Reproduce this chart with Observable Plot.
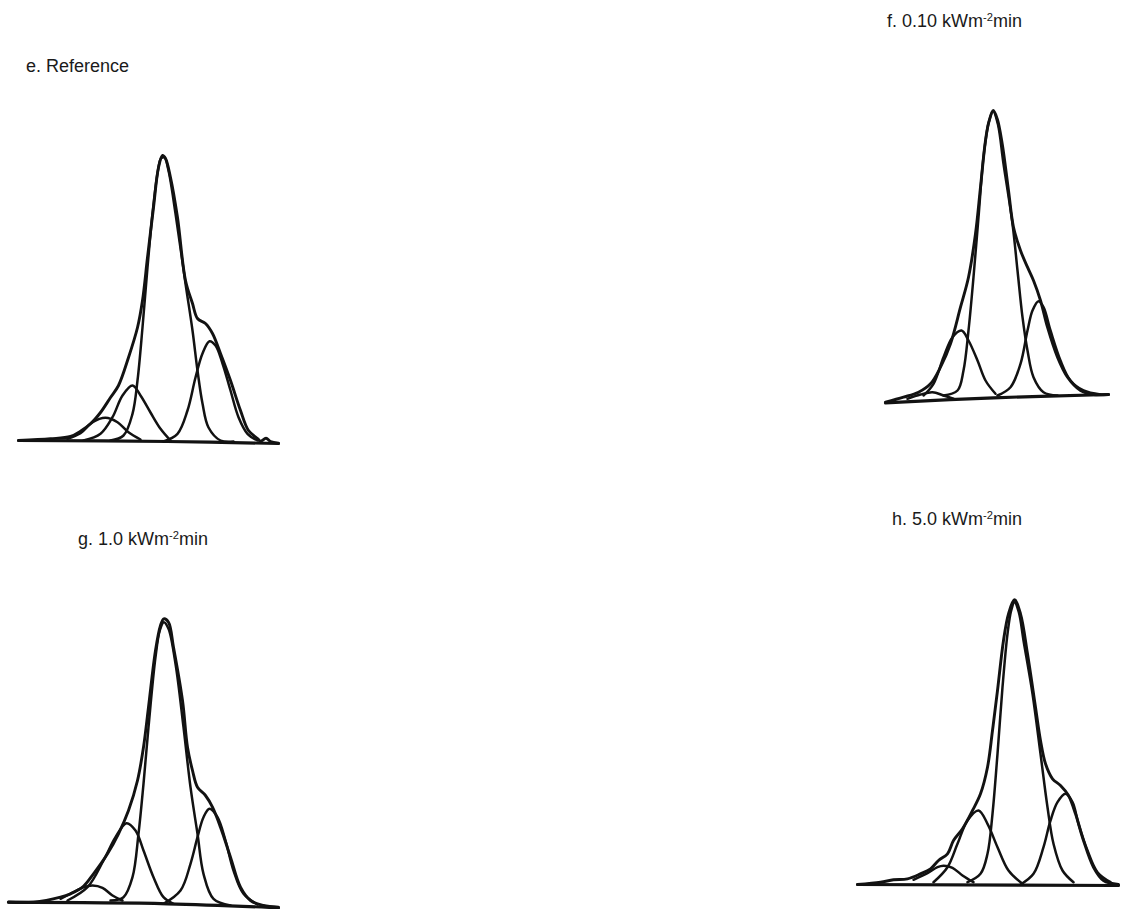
<!DOCTYPE html>
<html>
<head>
<meta charset="utf-8">
<script src="https://cdn.jsdelivr.net/npm/d3@7"></script>
<script src="https://cdn.jsdelivr.net/npm/@observablehq/plot@0.6"></script>
<style>
  html, body { margin: 0; padding: 0; background: #fff; }
  #page { position: relative; width: 1127px; height: 909px; overflow: hidden; background: #fff;
          font-family: "Liberation Sans", Arial, Helvetica, sans-serif; color: #1a1a1a; }
  .lbl { position: absolute; font-size: 18px; white-space: nowrap; line-height: 1; }
  .lbl sup { font-size: 0.62em; vertical-align: 0.55em; line-height: 0; }
  .panel { position: absolute; }
</style>
</head>
<body>
<div id="page"></div>
<script>
// ---------- Panel labels ----------
const labels = [
  {id: "e", html: "e. Reference"},
  {id: "f", html: "f. 0.10 kWm<sup>-2</sup>min"},
  {id: "g", html: "g. 1.0 kWm<sup>-2</sup>min"},
  {id: "h", html: "h. 5.0 kWm<sup>-2</sup>min"}
];

// ---------- Panel e (Reference): [energy channel, intensity] ----------
const eEnvelope = [[18,1],[50,2.7],[70,5],[80,10.3],[90,17.7],[100,29],[110,44],[118,56],[128,84],[137,114],[142,141],[147,184],[153,234],[158,274],[162,286],[165,283],[170,264],[177,224],[185,161],[192,138],[197,123],[205,118],[212,108],[220,88],[230,61],[240,31],[248,11],[257,3],[260,0.3],[265.5,3.3],[270,0],[278,-1.7]];
const eMain = [[110,1],[123,6],[132,27.7],[137,61],[142,114],[147,174],[152,228],[157,268],[160.5,283],[164,284],[168,271],[175,228],[185,158],[192,111],[197,71],[202,38],[208,14],[220,1],[233,0]];
const eRight = [[163,0],[177,7.7],[187,31],[195,64],[202,88],[209,100.3],[215,96],[222,78],[230,51],[238,24.3],[247,7.7],[257,1]];
const eMid = [[83,1],[100,7.7],[112,24.3],[122,46],[132,56],[140,46],[150,29],[160,12.7],[170,1]];
const eSmall = [[67,2.7],[80,8.3],[92,19.3],[105,23.7],[117,19.3],[128,9.3],[140,2]];
const eBase = [[18,1],[167,0],[278,-2]];

// ---------- Panel f (0.10 kWm-2min) ----------
const fEnvelope = [[25,-3.7],[43,1.3],[58,6.3],[70,14.7],[80,31.3],[90,54.7],[100,91.3],[108,121.3],[115,164.7],[120,211.3],[125,258],[128.3,276.3],[132.7,288],[136.7,279.7],[141.7,254.7],[148,208],[153,171.3],[160,148],[167,131.3],[173,118],[180,98],[187,71.3],[197,41.3],[207,21.3],[220,8],[233,4],[248,4]];
const fMain = [[83,3],[97,8],[103,28],[108,68],[113,121.3],[118,181.3],[123,241.3],[128.3,276.3],[132.7,287.3],[137.3,274.7],[143,234.7],[152,174.7],[157,128],[162,81.3],[167,48],[173,21.3],[183,6.3],[197,3]];
const fRight = [[137,3],[150,11.3],[160,34.7],[167,68],[172,88],[178,97.3],[183,91.3],[190,68],[200,38],[210,18],[223,8],[240,4]];
const fMid = [[63,3],[73,14.7],[83,41.3],[92,61.3],[101,68],[108,58],[117,38],[125,18],[135,4.7]];
const fSmall = [[47,-0.3],[60,4],[72,6.3],[83,3],[93,-0.3]];
const fBase = [[25,-4.3],[133,0.7],[248,4]];

// ---------- Panel g (1.0 kWm-2min) ----------
const gEnvelope = [[8,3.3],[33,3.3],[60,8.3],[70,11.7],[82,18.3],[93,31.7],[107,51.7],[118,71.7],[128,95],[137,125],[143,158.3],[148,198.3],[155,255],[160,280],[163.3,286.7],[168,283.3],[173,258.3],[182,205],[187,158.3],[192,135],[197,118.3],[205,110],[212,98.3],[220,78.3],[230,48.3],[240,18.3],[250,5],[263,0],[278,-1.7]];
const gMain = [[110,5],[123,8.3],[132,28.3],[138,71.7],[143,121.7],[148,178.3],[155,248.3],[159.3,275],[163.3,283.3],[168,276.7],[175,241.7],[183,178.3],[190,118.3],[197,71.7],[203,31.7],[213,6.7],[230,0]];
const gRight = [[163,1.7],[180,15],[190,41.7],[197,68.3],[203,88.3],[209,96.7],[217,88.3],[225,65],[233,35],[243,11.7],[257,1]];
const gMid = [[67,5],[87,18.3],[103,45],[115,68.3],[126,82.3],[135,75],[143,55],[153,28.3],[163,8.3],[173,1.7]];
const gSmall = [[60,6.7],[73,13.3],[83,18.3],[92,20],[102,17.7],[112,10],[122,5]];
const gBase = [[8,3.3],[167,1.7],[278,-2.3]];

// ---------- Panel h (5.0 kWm-2min) ----------
const hEnvelope = [[17,0],[40,2.3],[53,4.7],[67,5.7],[80,10.7],[90,15.7],[98,24],[107,30.7],[113,44],[122,55.7],[132,74],[140,90.7],[147,117.3],[152,154],[157,194],[163,244],[168,270.7],[174,284.7],[180,270.7],[187,230.7],[195,177.3],[200,144],[205,120.7],[212,105.7],[220,99],[228,89],[235,70.7],[243,44],[253,17.3],[263,4],[278,0]];
const hMain = [[127,2.3],[140,10.7],[147,30.7],[152,70.7],[157,130.7],[162,197.3],[167,250.7],[170.7,274],[174,282.3],[178.3,272.3],[183,244],[192,190.7],[200,130.7],[207,77.3],[213,40.7],[222,14],[233,2.3]];
const hRight = [[180,0],[193,10.7],[203,37.3],[210,64],[217,82.3],[225,90.7],[232,82.3],[238,60.7],[247,34],[257,12.3],[270,2.3]];
const hMid = [[93,2.3],[107,17.3],[117,40.7],[127,64],[138,74],[147,60.7],[157,37.3],[168,14],[182,0.7]];
const hSmall = [[73,4.7],[87,11.3],[97,17.3],[103,18.7],[112,16.7],[122,9],[133,2.3]];
const hBase = [[17,0],[278,-1]];

// ---------- Assemble ----------
const panels = [
  {id: "e", envelope: eEnvelope, comps: [eMain, eRight, eMid, eSmall], base: eBase},
  {id: "f", envelope: fEnvelope, comps: [fMain, fRight, fMid, fSmall], base: fBase},
  {id: "g", envelope: gEnvelope, comps: [gMain, gRight, gMid, gSmall], base: gBase},
  {id: "h", envelope: hEnvelope, comps: [hMain, hRight, hMid, hSmall], base: hBase}
];

// layout: box position on page, width, height, and baseline offset within box
const layout = {
  e: {left: 0,   top: 140, width: 290, height: 310, zero: 301},
  f: {left: 860, top: 90,  width: 267, height: 320, zero: 308},
  g: {left: 0,   top: 600, width: 290, height: 309, zero: 305},
  h: {left: 840, top: 580, width: 287, height: 310, zero: 304}
};
const labelPos = {
  e: {left: 26,  top: 57},
  f: {left: 887, top: 12},
  g: {left: 78,  top: 530},
  h: {left: 892, top: 510}
};

const page = document.getElementById("page");
const ink = "#121212";

for (const p of panels) {
  const L = layout[p.id];
  const marks = [];
  marks.push(Plot.line(p.base, {x: d => d[0], y: d => d[1], stroke: ink, strokeWidth: 3.2, curve: "catmull-rom"}));
  for (const c of p.comps) {
    marks.push(Plot.line(c, {x: d => d[0], y: d => d[1], stroke: ink, strokeWidth: 2.5, curve: "catmull-rom"}));
  }
  marks.push(Plot.line(p.envelope, {x: d => d[0], y: d => d[1], stroke: ink, strokeWidth: 2.9, curve: "catmull-rom"}));
  const svg = Plot.plot({
    width: L.width,
    height: L.height,
    marginTop: 0, marginRight: 0, marginBottom: 0, marginLeft: 0,
    x: {domain: [0, L.width], axis: null},
    y: {domain: [0, L.zero], range: [L.zero, 0], axis: null},
    style: {background: "transparent", overflow: "visible"},
    marks
  });
  const div = document.createElement("div");
  div.className = "panel";
  div.style.left = L.left + "px";
  div.style.top = L.top + "px";
  div.appendChild(svg);
  page.appendChild(div);
}

for (const l of labels) {
  const d = document.createElement("div");
  d.className = "lbl";
  d.style.left = labelPos[l.id].left + "px";
  d.style.top = labelPos[l.id].top + "px";
  d.innerHTML = l.html;
  page.appendChild(d);
}
</script>
</body>
</html>
